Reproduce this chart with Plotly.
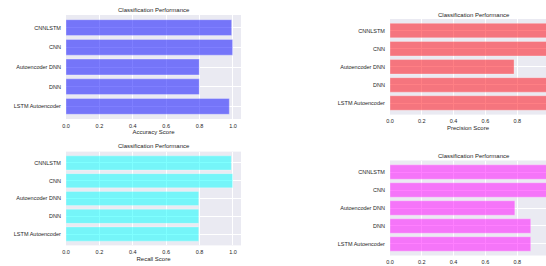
import plotly.graph_objects as go

W, H = 546, 266

models = ["CNNLSTM", "CNN", "Autoencoder DNN", "DNN", "LSTM Autoencoder"]
accuracy = [0.992, 0.998, 0.798, 0.798, 0.978]
precision = [0.995, 0.998, 0.78, 0.995, 0.998]
recall = [0.99, 0.998, 0.795, 0.795, 0.795]
f1 = [0.995, 0.998, 0.785, 0.885, 0.885]

# the fourth panel's axis title falls outside the cropped picture
score_names = ["Accuracy Score", "Precision Score", "Recall Score", ""]
series = [accuracy, precision, recall, f1]
colors = ["rgba(0,0,255,0.5)", "rgba(255,0,10,0.5)", "rgba(0,255,255,0.5)", "rgba(255,0,255,0.5)"]

# panel boxes in pixels: (left, right, top, bottom, xmax, title_center_x, title_y)
panels = [
    (66, 241, 15, 119, 1.048, 153.5, 10),
    (390, 546, 19, 114.6, 0.981, 473.5, 15),
    (66, 241, 151.6, 245.4, 1.048, 153.5, 146),
    (390, 546, 160.5, 255.5, 0.981, 473.5, 156),
]

font = "Liberation Sans, Arial, sans-serif"
txt = "#262626"

fig = go.Figure()
annotations = []
layout = {}
for i, (vals, name, col, p) in enumerate(zip(series, score_names, colors, panels)):
    l, r, t, b, xmax, tcx, ty = p
    sfx = "" if i == 0 else str(i + 1)
    fig.add_trace(go.Bar(
        x=vals, y=models, orientation="h",
        marker=dict(color=col, line=dict(width=0.6, color="rgba(255,255,255,0.5)")),
        width=0.8, xaxis="x" + sfx, yaxis="y" + sfx, showlegend=False,
    ))
    layout["xaxis" + sfx] = dict(
        domain=[l / W, r / W], anchor="y" + sfx, range=[0, xmax],
        tickvals=[0, 0.2, 0.4, 0.6, 0.8, 1.0], ticktext=["0.0", "0.2", "0.4", "0.6", "0.8", "1.0"],
        showgrid=True, gridcolor="white", gridwidth=1, zeroline=False, showline=False,
        ticks="outside", ticklen=1, tickcolor="rgba(0,0,0,0)",
        tickfont=dict(size=5.5, color=txt, family=font),
        title=dict(text=name, font=dict(size=6, color=txt, family=font), standoff=2),
        automargin=False, fixedrange=True,
    )
    layout["yaxis" + sfx] = dict(
        domain=[1 - b / H, 1 - t / H], anchor="x" + sfx,
        categoryorder="array", categoryarray=models, range=[4.64, -0.64],
        showgrid=True, gridcolor="white", gridwidth=1, zeroline=False, showline=False,
        ticks="outside", ticklen=3, tickcolor="rgba(0,0,0,0)",
        tickfont=dict(size=5.5, color=txt, family=font),
        automargin=False, fixedrange=True,
    )
    annotations.append(dict(
        text="Classification Performance", xref="paper", yref="paper",
        x=tcx / W, y=1 - ty / H, xanchor="center", yanchor="middle", showarrow=False,
        font=dict(size=6, color=txt, family=font),
    ))

fig.update_layout(
    width=W, height=H, margin=dict(l=0, r=0, t=0, b=0),
    paper_bgcolor="white", plot_bgcolor="#EAEAF2",
    bargap=0.2, annotations=annotations, template="none",
    **layout,
)
fig.write_html(
    "out.html",
    config={"displayModeBar": False},
    post_script="document.body.style.margin='0';document.body.style.overflow='hidden';",
)
